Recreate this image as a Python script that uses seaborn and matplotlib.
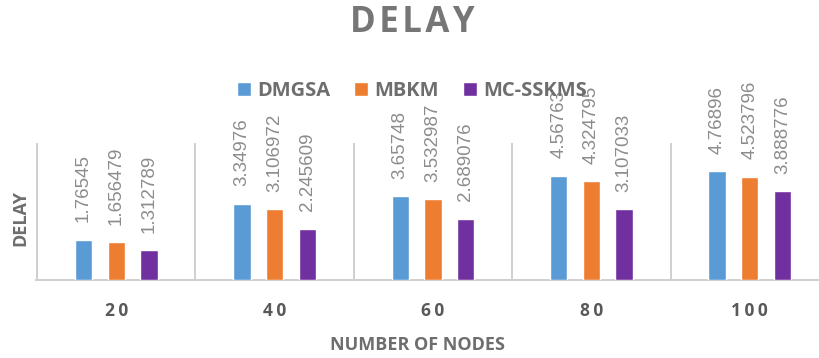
import matplotlib
matplotlib.use("Agg")
import matplotlib.pyplot as plt
import seaborn as sns
import pandas as pd

# Chart data
nodes = ["20", "40", "60", "80", "100"]
dmgsa = [1.76545, 3.34976, 3.65748, 4.56763, 4.76896]
mbkm = [1.656479, 3.106972, 3.532987, 4.324795, 4.523796]
mc_sskms = [1.312789, 2.245609, 2.689076, 3.107033, 3.888776]
series_names = ["DMGSA", "MBKM", "MC-SSKMS"]
series_colors = ["#5B9BD5", "#ED7D31", "#7030A0"]

df = pd.DataFrame({
    "nodes": nodes * 3,
    "delay": dmgsa + mbkm + mc_sskms,
    "algo": [s for s in series_names for _ in nodes],
})

sns.set_theme(style="white")
plt.rcParams["font.family"] = ["Open Sans", "DejaVu Sans"]

HAIR = "\u200a"
THIN = "\u2009"

fig = plt.figure(figsize=(8.19, 3.58), dpi=100)
ax = fig.add_axes([37 / 819, 78 / 358, 792 / 819, 137 / 358])

sns.barplot(data=df, x="nodes", y="delay", hue="algo", order=nodes,
            hue_order=series_names, palette=series_colors,
            width=0.62, gap=0.47, ax=ax, legend=True, errorbar=None,
            saturation=1)

n = len(nodes)
ax.set_ylim(0, 6)
ax.set_xlim(-0.5, n - 0.5)

# category separators as thin filled strips, plus the baseline
grid_c = "#D0D0D0"
half_w = 0.006
for k in range(n + 1):
    edge = k - 0.5
    ax.axvspan(edge - half_w, edge + half_w, color=grid_c, lw=0, zorder=0.5,
               clip_on=False)
ax.axhspan(-0.025, 0.025, xmin=-0.003, xmax=1, color=grid_c, lw=0, zorder=0.5,
           clip_on=False)
for s in ax.spines.values():
    s.set_visible(False)

ax.set_yticks([])
ax.tick_params(axis="x", length=0, pad=16)
ax.set_xticks(range(n))
ax.set_xticklabels([THIN.join(v) for v in nodes], fontsize=12.5,
                   fontweight="bold", color="#595959")

ax.set_xlabel("")
ax.set_ylabel("")

# value labels above each bar
for cont in ax.containers:
    for bar, val in zip(cont, cont.datavalues):
        ax.annotate(str(float(val)),
                    xy=(bar.get_x() + bar.get_width() / 2, bar.get_height()),
                    xytext=(0, 12.5), textcoords="offset points", rotation=90,
                    ha="center", va="bottom", fontsize=13.5, color="#8C8C8C",
                    family=["Liberation Sans", "DejaVu Sans"])

# legend
handles, labels = ax.get_legend_handles_labels()
ax.legend(handles, labels, loc="center", bbox_to_anchor=(0.503, 1 - 91 / 358),
          bbox_transform=fig.transFigure, ncol=3, frameon=False,
          handlelength=0.7, handleheight=0.7, handletextpad=0.3,
          columnspacing=1.2, prop={"size": 14.5, "weight": "bold"},
          labelcolor="#6E6E6E")

fig.text(0.503, 1 - 23 / 358, HAIR.join("DELAY"), ha="center", va="center",
         fontsize=25, fontweight="bold", color="#767676")
fig.text(20 / 819, 1 - 218 / 358, "DELAY", ha="center", va="center", rotation=90,
         fontsize=13, fontweight="bold", color="#6E6E6E")
fig.text(0.51, 1 - 345 / 358, "NUMBER OF NODES", ha="center", va="center",
         fontsize=13, fontweight="bold", color="#6E6E6E")

fig.savefig("out.png", dpi=100)
